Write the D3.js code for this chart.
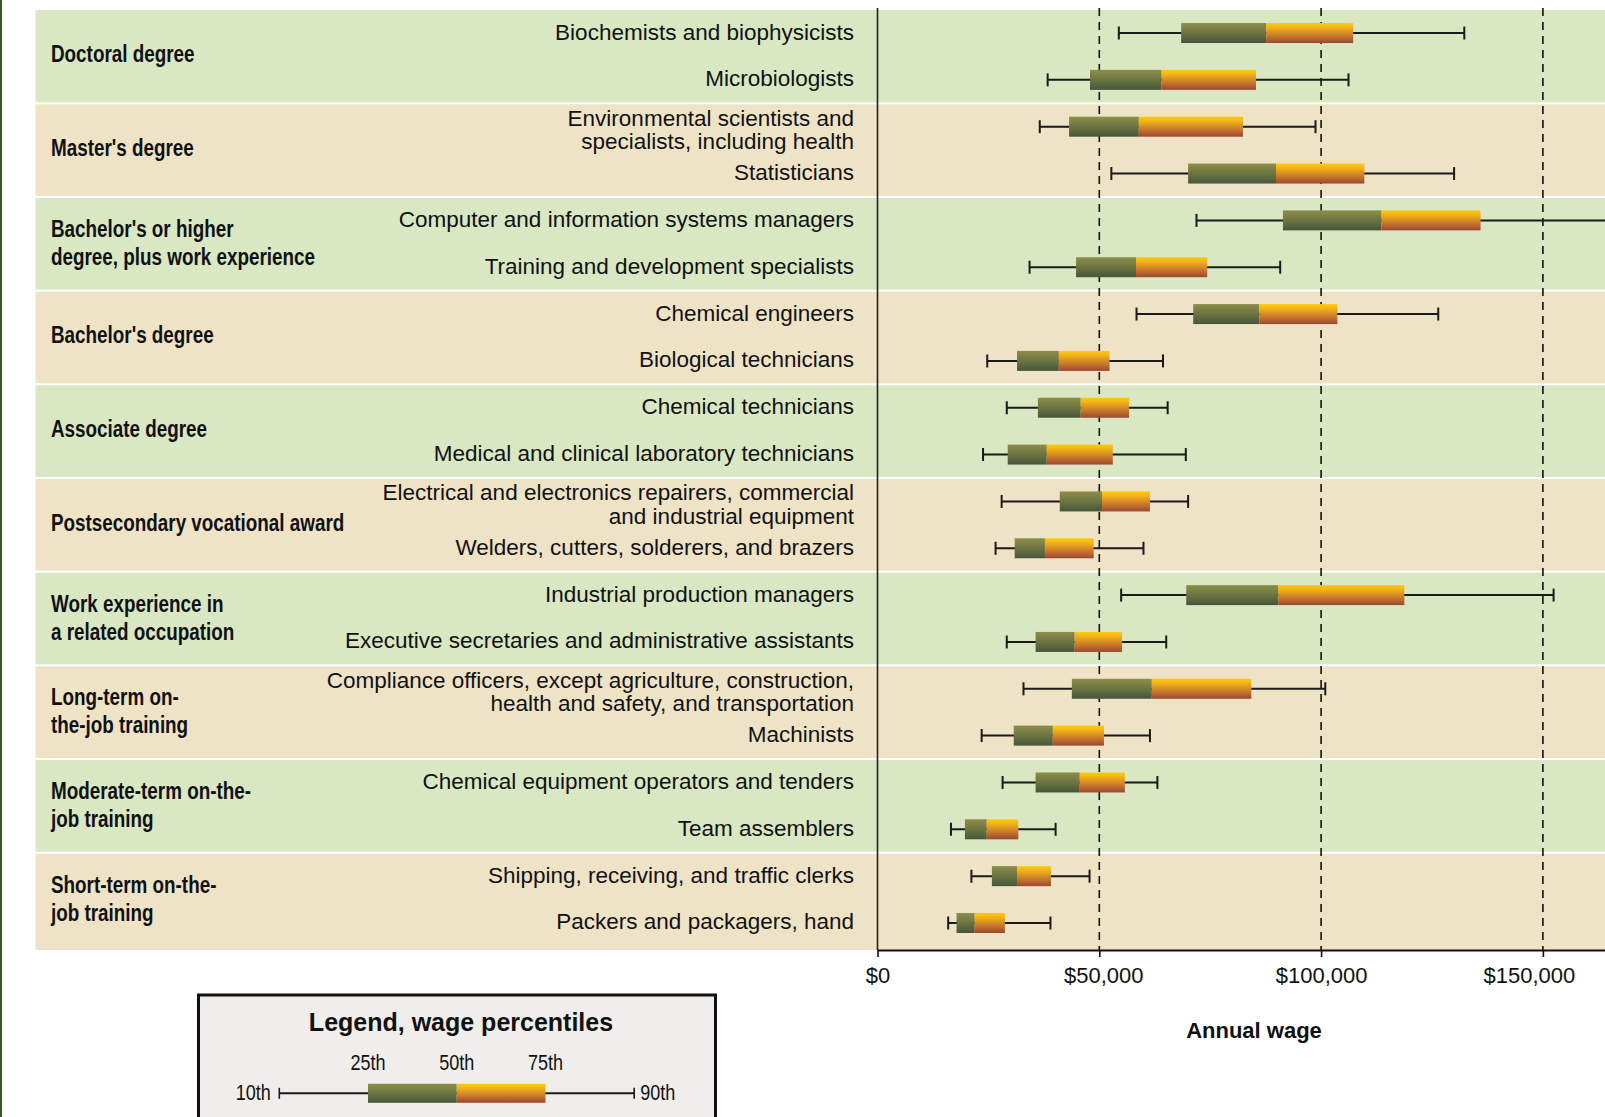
<!DOCTYPE html>
<html><head><meta charset="utf-8">
<script src="https://cdn.jsdelivr.net/npm/d3@7"></script>
<style>html,body{margin:0;padding:0;background:#fff;overflow:hidden}</style>
</head><body>
<svg id="chart" width="1605" height="1117"></svg>
<script>
// ---------------- DATA ----------------
const educationCategories = [
  ["Doctoral degree"],
  ["Master's degree"],
  ["Bachelor's or higher", "degree, plus work experience"],
  ["Bachelor's degree"],
  ["Associate degree"],
  ["Postsecondary vocational award"],
  ["Work experience in", "a related occupation"],
  ["Long-term on-", "the-job training"],
  ["Moderate-term on-the-", "job training"],
  ["Short-term on-the-", "job training"]
];
const occupationLabels = [
  ["Biochemists and biophysicists"],
  ["Microbiologists"],
  ["Environmental scientists and", "specialists, including health"],
  ["Statisticians"],
  ["Computer and information systems managers"],
  ["Training and development specialists"],
  ["Chemical engineers"],
  ["Biological technicians"],
  ["Chemical technicians"],
  ["Medical and clinical laboratory technicians"],
  ["Electrical and electronics repairers, commercial", "and industrial equipment"],
  ["Welders, cutters, solderers, and brazers"],
  ["Industrial production managers"],
  ["Executive secretaries and administrative assistants"],
  ["Compliance officers, except agriculture, construction,", "health and safety, and transportation"],
  ["Machinists"],
  ["Chemical equipment operators and tenders"],
  ["Team assemblers"],
  ["Shipping, receiving, and traffic clerks"],
  ["Packers and packagers, hand"]
];
const wageP10 = [54400, 38360, 36580, 52720, 71910, 34280, 58390, 24740, 29140, 23790, 27990, 26620, 54930, 29140, 32910, 23480, 28200, 16560, 21170, 15930];
const wageP25 = [68450, 47900, 43190, 70020, 91400, 44760, 71170, 31450, 36160, 29350, 41090, 30920, 69600, 35640, 43810, 30710, 35640, 19710, 25790, 17820];
const wageP50 = [87630, 64050, 58910, 89830, 113630, 58280, 86060, 40880, 45810, 38160, 50630, 37740, 90360, 44440, 61840, 39520, 45600, 24630, 31450, 21910];
const wageP75 = [107230, 85320, 82390, 109750, 135950, 74320, 103670, 52310, 56710, 53040, 61420, 48740, 118760, 55130, 84270, 51050, 55760, 31760, 39100, 28720];
const wageP90 = [132280, 106180, 98740, 129980, 187200, 90780, 126410, 64360, 65410, 69500, 70020, 59960, 152410, 65090, 100940, 61420, 63100, 40150, 47800, 38990];
const xTickValues = [0, 50000, 100000, 150000];
const gridValues = [50000, 100000, 150000];
const legendLabels = ["10th", "25th", "50th", "75th", "90th"];
const legendTitle = "Legend, wage percentiles";
const axisTitle = "Annual wage";

// ---------------- FONTS ----------------
function hasFont(name) {
  const c = document.createElement('canvas').getContext('2d');
  const s = 'abcdefghijklmnopqrstuvwxyzABCDEFG0123';
  c.font = '40px monospace'; const a = c.measureText(s).width;
  c.font = `40px "${name}", monospace`; const b = c.measureText(s).width;
  return Math.abs(a - b) > 0.5;
}
const SANS = '"Liberation Sans", Arial, Helvetica, sans-serif';
const narrowOK = hasFont('Liberation Sans Narrow');
const NARROW = narrowOK ? '"Liberation Sans Narrow", "Arial Narrow", sans-serif' : SANS;
const NSCALE = narrowOK ? 1 : 0.82;

// ---------------- LAYOUT ----------------
const W = 1605, H = 1117;
const svg = d3.select('#chart');
const plotLeft = 877.5, plotRight = 1605, plotTop = 8, plotBottom = 950;
const bandLeft = 35.5;

const x = d3.scaleLinear().domain([0, 164000]).range([plotLeft, plotRight]);
const y = d3.scaleBand().domain(d3.range(occupationLabels.length)).range([9.6, 946.4]).padding(0);
const bw = y.bandwidth();
const cy = i => y(i) + bw / 2;

// gradients
const defs = svg.append('defs');
const gGreen = defs.append('linearGradient').attr('id', 'gGreen').attr('x1', 0).attr('y1', 0).attr('x2', 0).attr('y2', 1);
[[0, '#8d8e49'], [0.5, '#6b7442'], [1, '#46563b']].forEach(s => gGreen.append('stop').attr('offset', s[0]).attr('stop-color', s[1]));
const gOrange = defs.append('linearGradient').attr('id', 'gOrange').attr('x1', 0).attr('y1', 0).attr('x2', 0).attr('y2', 1);
[[0, '#ffcb08'], [0.2, '#f3b618'], [0.6, '#cd7e2b'], [1, '#9b4733']].forEach(s => gOrange.append('stop').attr('offset', s[0]).attr('stop-color', s[1]));
defs.append('clipPath').attr('id', 'plotClip').append('rect')
  .attr('x', plotLeft).attr('y', 0).attr('width', plotRight - plotLeft).attr('height', H);

// left dark strip
svg.append('rect').attr('x', 0).attr('y', 0).attr('width', 2).attr('height', H).attr('fill', '#3e5a24');

// group background bands
const bandColors = ['#d9e7c3', '#efe3c6'];
const nG = educationCategories.length;
svg.append('g').selectAll('rect').data(educationCategories).join('rect')
  .attr('x', bandLeft)
  .attr('y', (d, g) => y(2 * g) + (g > 0 ? 1 : 0.4))
  .attr('width', W - bandLeft)
  .attr('height', (d, g) => {
    const top = y(2 * g) + (g > 0 ? 1 : 0.4);
    const bot = g < nG - 1 ? y(2 * g + 1) + bw - 1 : plotBottom;
    return bot - top;
  })
  .attr('fill', (d, g) => bandColors[g % 2]);

// category labels
function narrowText(sel, xPos, yPos) {
  sel.attr('transform', `translate(${xPos},${yPos}) scale(${NSCALE},1)`);
}
const catG = svg.append('g');
educationCategories.forEach((lines, g) => {
  const mid = y(2 * g) + bw;
  const ys = lines.length === 1 ? [mid + 6] : [mid - 7, mid + 21];
  lines.forEach((t, k) => {
    const tx = catG.append('text').text(t)
      .attr('font-family', NARROW).attr('font-weight', 'bold').attr('font-size', 23)
      .attr('fill', '#111');
    narrowText(tx, 51, ys[k]);
  });
});

// occupation labels
const occG = svg.append('g');
occupationLabels.forEach((lines, i) => {
  const c = cy(i);
  const ys = lines.length === 1 ? [c + 6.5] : [c - 1, c + 22.5];
  lines.forEach((t, k) => {
    occG.append('text').text(t)
      .attr('x', 854).attr('y', ys[k])
      .attr('text-anchor', 'end')
      .attr('font-family', SANS).attr('font-size', 22.5).attr('fill', '#111');
  });
});

// gridlines
svg.append('g').selectAll('line').data(gridValues).join('line')
  .attr('x1', d => x(d)).attr('x2', d => x(d))
  .attr('y1', plotTop).attr('y2', plotBottom)
  .attr('stroke', '#111').attr('stroke-width', 1.6).attr('stroke-dasharray', '8,6');

// y-axis line
svg.append('line').attr('x1', plotLeft).attr('x2', plotLeft).attr('y1', plotTop).attr('y2', plotBottom)
  .attr('stroke', '#222').attr('stroke-width', 1.6);

// x-axis
const xAxis = d3.axisBottom(x).tickValues(xTickValues)
  .tickFormat(d => '$' + d3.format(',')(d)).tickSize(7).tickPadding(10).tickSizeOuter(0);
const axG = svg.append('g').attr('transform', `translate(0,${plotBottom})`).call(xAxis);
axG.select('.domain').attr('stroke', '#111').attr('stroke-width', 2);
axG.selectAll('.tick line').attr('stroke', '#111').attr('stroke-width', 1.6);
axG.selectAll('.tick text').attr('font-family', SANS).attr('font-size', 22).attr('fill', '#111')
  .attr('dx', d => d === xTickValues[xTickValues.length - 1] ? -14 : (d === 50000 ? 4 : 0));

svg.append('text').text(axisTitle)
  .attr('x', 1254).attr('y', 1038).attr('text-anchor', 'middle')
  .attr('font-family', SANS).attr('font-weight', 'bold').attr('font-size', 22).attr('fill', '#111');

// boxes
const rows = occupationLabels.map((d, i) => ({ i, p10: wageP10[i], p25: wageP25[i], p50: wageP50[i], p75: wageP75[i], p90: wageP90[i] }));
const boxH = 20, capH = 13;
const bx = svg.append('g').attr('clip-path', 'url(#plotClip)');
bx.selectAll('line.wh').data(rows).join('line').attr('class', 'wh')
  .attr('x1', d => x(d.p10)).attr('x2', d => x(d.p90))
  .attr('y1', d => cy(d.i)).attr('y2', d => cy(d.i))
  .attr('stroke', '#1a1a1a').attr('stroke-width', 2);
bx.selectAll('line.c1').data(rows).join('line').attr('class', 'c1')
  .attr('x1', d => x(d.p10)).attr('x2', d => x(d.p10))
  .attr('y1', d => cy(d.i) - capH / 2).attr('y2', d => cy(d.i) + capH / 2)
  .attr('stroke', '#1a1a1a').attr('stroke-width', 2);
bx.selectAll('line.c2').data(rows).join('line').attr('class', 'c2')
  .attr('x1', d => x(d.p90)).attr('x2', d => x(d.p90))
  .attr('y1', d => cy(d.i) - capH / 2).attr('y2', d => cy(d.i) + capH / 2)
  .attr('stroke', '#1a1a1a').attr('stroke-width', 2);
bx.selectAll('rect.lo').data(rows).join('rect').attr('class', 'lo')
  .attr('x', d => x(d.p25)).attr('width', d => x(d.p50) - x(d.p25))
  .attr('y', d => cy(d.i) - boxH / 2).attr('height', boxH).attr('fill', 'url(#gGreen)');
bx.selectAll('rect.hi').data(rows).join('rect').attr('class', 'hi')
  .attr('x', d => x(d.p50)).attr('width', d => x(d.p75) - x(d.p50))
  .attr('y', d => cy(d.i) - boxH / 2).attr('height', boxH).attr('fill', 'url(#gOrange)');

// ---------------- LEGEND ----------------
const lg = svg.append('g');
lg.append('rect').attr('x', 198.5).attr('y', 995).attr('width', 517).attr('height', 160)
  .attr('fill', '#efeeea').attr('stroke', '#111').attr('stroke-width', 3);
lg.append('text').text(legendTitle).attr('x', 461).attr('y', 1031).attr('text-anchor', 'middle')
  .attr('font-family', SANS).attr('font-weight', 'bold').attr('font-size', 25).attr('fill', '#111');
const lx = d3.scalePoint().domain(legendLabels).range([279.3, 634.2]);
const ly = 1093.3;
lg.append('line').attr('x1', lx('10th')).attr('x2', lx('90th')).attr('y1', ly).attr('y2', ly)
  .attr('stroke', '#1a1a1a').attr('stroke-width', 2);
['10th', '90th'].forEach(k => lg.append('line').attr('x1', lx(k)).attr('x2', lx(k))
  .attr('y1', ly - 5.5).attr('y2', ly + 5.5).attr('stroke', '#1a1a1a').attr('stroke-width', 1.6));
lg.append('rect').attr('x', lx('25th')).attr('width', lx('50th') - lx('25th'))
  .attr('y', ly - 9.5).attr('height', 19).attr('fill', 'url(#gGreen)');
lg.append('rect').attr('x', lx('50th')).attr('width', lx('75th') - lx('50th'))
  .attr('y', ly - 9.5).attr('height', 19).attr('fill', 'url(#gOrange)');
['25th', '50th', '75th'].forEach(k => {
  const t = lg.append('text').text(k).attr('text-anchor', 'middle')
    .attr('font-family', NARROW).attr('font-size', 22).attr('fill', '#111');
  narrowText(t, lx(k), 1070);
});
const t10 = lg.append('text').text('10th').attr('text-anchor', 'end')
  .attr('font-family', NARROW).attr('font-size', 22).attr('fill', '#111');
narrowText(t10, lx('10th') - 8.5, 1100);
const t90 = lg.append('text').text('90th').attr('text-anchor', 'start')
  .attr('font-family', NARROW).attr('font-size', 22).attr('fill', '#111');
narrowText(t90, lx('90th') + 6, 1100);
</script>
</body></html>
